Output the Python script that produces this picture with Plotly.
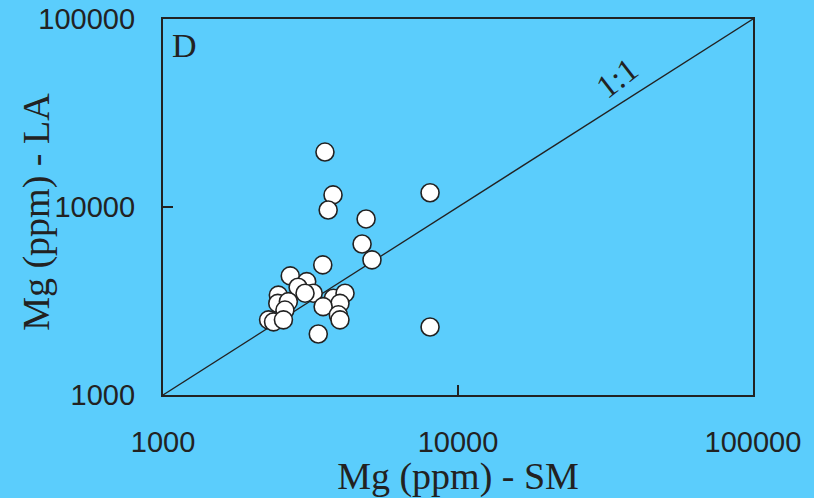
import plotly.graph_objects as go

# Data (Mg ppm)
mg_sm = [3540, 3770, 3630, 8040, 4880, 4730, 5110, 3480, 8040, 3360,
         2700, 3070, 2870, 3230, 3030, 3780, 4140, 3980, 3490, 2460,
         2450, 2660, 2590, 3930, 3980, 2280, 2370, 2560]
mg_la = [19600, 11600, 9640, 11900, 8640, 6360, 5230, 4920, 2300, 2110,
         4300, 4010, 3740, 3480, 3480, 3270, 3480, 3070, 2950, 3400,
         3070, 3140, 2830, 2670, 2510, 2510, 2450, 2510]

ref_line = [1000, 100000]
tick_vals = [1000, 10000, 100000]
tick_text = ["1000", "10000", "100000"]

BG = "#5BCDFC"
INK = "#222222"
SERIF = "Liberation Serif, Times New Roman, serif"

fig = go.Figure()
fig.add_trace(go.Scatter(x=ref_line, y=ref_line, mode="lines",
                         line=dict(color=INK, width=1.3), hoverinfo="skip",
                         showlegend=False))
fig.add_trace(go.Scatter(x=mg_sm, y=mg_la, mode="markers",
                         marker=dict(size=18, color="white",
                                     line=dict(color=INK, width=1.6)),
                         showlegend=False))

axis_common = dict(type="log", range=[3, 5], showgrid=False, zeroline=False,
                   showline=True, linecolor=INK, linewidth=2.2, mirror=True,
                   ticks="inside", ticklen=10, tickwidth=2, tickcolor=INK,
                   tickvals=tick_vals, ticktext=tick_text, automargin=False,
                   tickfont=dict(family="Liberation Sans, Arial", size=29, color=INK))

fig.update_layout(
    width=814, height=498,
    margin=dict(l=163, r=61, t=19, b=103),
    paper_bgcolor=BG, plot_bgcolor=BG,
    xaxis=dict(**axis_common, ticklabelstandoff=20,
               title=dict(text="Mg (ppm) - SM", standoff=5,
                          font=dict(family=SERIF, size=38, color=INK))),
    yaxis=dict(**axis_common, ticklabelstandoff=20),
    annotations=[
        dict(x=-0.2136, y=0.487, xref="paper", yref="paper", text="Mg (ppm) - LA",
             showarrow=False, textangle=-90, xanchor="center", yanchor="middle",
             font=dict(family=SERIF, size=38, color=INK)),
        dict(x=0.012, y=0.985, xref="paper", yref="paper", text="D", showarrow=False,
             xanchor="left", yanchor="top",
             font=dict(family=SERIF, size=34, color=INK)),
        dict(x=4.54, y=4.685, xref="x", yref="y", text="1:1", showarrow=False,
             textangle=-38,
             font=dict(family=SERIF, size=33, color=INK)),
    ],
)

fig.write_html("out.html")
